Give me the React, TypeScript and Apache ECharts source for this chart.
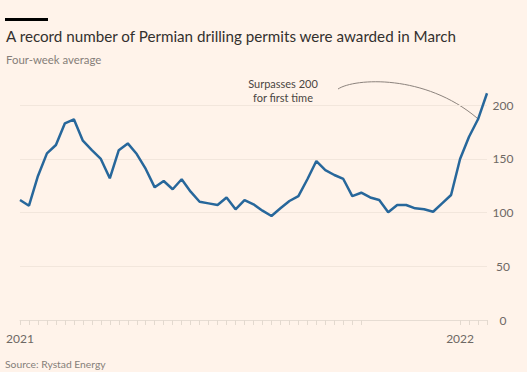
import React, { useEffect, useRef } from "react";
import * as echarts from "echarts";

const permits: number[] = [
  111.6, 106.3, 134, 155, 162.8, 183, 186.7, 166.8, 158, 149.8,
  131.8, 158, 164.3, 154.4, 140.5, 123.4, 129.3, 121.6, 130.9, 119.4,
  110, 108.5, 107, 114, 103, 111.6, 107.6, 101.7, 96.7, 103.9,
  110.7, 115.3, 130.9, 147.9, 139.5, 134.9, 131.2, 115.3, 118.4, 114,
  111.6, 100.2, 107, 107, 103.9, 103, 100.7, 108.5, 116.3, 149.8,
  170.5, 186.7, 210.9,
];
const yearLabels: { index: number; label: string }[] = [
  { index: 0, label: "2021" },
  { index: 49, label: "2022" },
];
const weeks: string[] = permits.map((_, i) => `w${i + 1}`);
const yTicks: number[] = [0, 50, 100, 150, 200];

const TITLE = "A record number of Permian drilling permits were awarded in March";
const SUBTITLE = "Four-week average";
const SOURCE = "Source: Rystad Energy";
const NOTE = "Surpasses 200\nfor first time";

export default function App() {
  const ref = useRef<HTMLDivElement>(null);
  useEffect(() => {
    document.body.style.margin = "0";
    const chart = echarts.init(ref.current!, null, { renderer: "svg" });
    const font = "Lato, 'Open Sans', sans-serif";
    chart.setOption({
      animation: false,
      backgroundColor: "#FFF3EA",
      textStyle: { fontFamily: font },
      grid: { left: 20, right: 40, top: 105, bottom: 52 },
      xAxis: {
        type: "category",
        data: weeks,
        boundaryGap: false,
        axisLine: { show: true, lineStyle: { color: "#e6dcd3", width: 1 } },
        axisTick: {
          show: true,
          length: 5,
          interval: (i: number) => i <= 38 || i >= 49,
          lineStyle: { color: "#e3d9cf" },
        },
        axisLabel: {
          interval: (i: number) => yearLabels.some((y) => y.index === i),
          formatter: (_v: string, i: number) => {
            const y = yearLabels.find((t) => t.index === i);
            return y ? y.label : "";
          },
          color: "#6e6864",
          fontSize: 12,
          margin: 12,
          fontFamily: font,
        },
        splitLine: { show: false },
      },
      yAxis: {
        type: "value",
        position: "right",
        min: yTicks[0],
        max: yTicks[yTicks.length - 1],
        interval: 50,
        axisLine: { show: false },
        axisTick: { show: false },
        axisLabel: {
          color: "#6e6864",
          fontSize: 12,
          align: "center",
          margin: 16,
          fontFamily: font,
        },
        splitLine: { lineStyle: { color: "#f2e6dc", width: 1 } },
      },
      series: [
        {
          type: "line",
          data: permits,
          clip: false,
          symbol: "none",
          lineStyle: { color: "#27679b", width: 2.5 },
          z: 3,
        },
      ],
      graphic: [
        { type: "rect", shape: { x: 5, y: 18, width: 43, height: 3 }, style: { fill: "#000" } },
        {
          type: "text",
          x: 6,
          y: 28,
          style: { text: TITLE, fill: "#33302e", font: `15.2px ${font}` },
        },
        {
          type: "text",
          x: 6,
          y: 54,
          style: { text: SUBTITLE, fill: "#857e79", font: `11.4px ${font}` },
        },
        {
          type: "text",
          x: 5,
          y: 359,
          style: { text: SOURCE, fill: "#857e79", font: `10.3px ${font}` },
        },
        {
          type: "text",
          x: 283,
          y: 76,
          style: {
            text: NOTE,
            fill: "#4a4542",
            font: `11px ${font}`,
            align: "center",
            lineHeight: 14,
          },
        },
        {
          type: "bezierCurve",
          shape: { x1: 338, y1: 89, cpx1: 355, cpy1: 78, cpx2: 425, cpy2: 74, x2: 477, y2: 118 },
          style: { stroke: "#8c837d", lineWidth: 1, fill: "none" },
        },
      ],
    });
    return () => chart.dispose();
  }, []);
  return <div ref={ref} style={{ width: 527, height: 372 }} />;
}
